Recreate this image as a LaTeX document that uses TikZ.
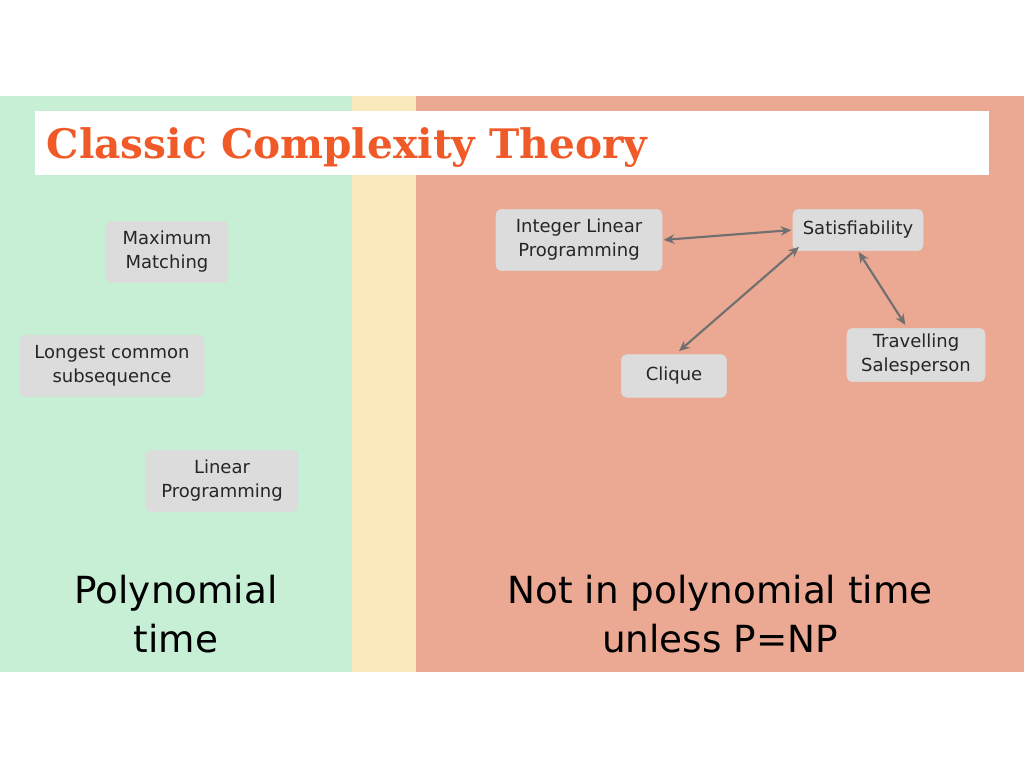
\documentclass[tikz,border=0pt]{standalone}
\usepackage{fontspec}
\setmainfont{DejaVu Sans}
\newfontfamily\titlefont{DejaVu Serif}
\usetikzlibrary{arrows.meta}
\definecolor{polyGreen}{HTML}{C6EFD6}
\definecolor{midYellow}{HTML}{F8E8BC}
\definecolor{npSalmon}{HTML}{EBA892}
\definecolor{titleOrange}{HTML}{F05A28}
\definecolor{boxGray}{HTML}{DCDCDC}
\definecolor{arrowGray}{HTML}{707070}
\tikzset{
  problem/.style={draw=boxGray, fill=boxGray, rounded corners=4pt, align=center,
    font=\fontsize{13.5}{18}\selectfont, text=black!85, inner sep=0pt},
  reduction/.style={draw=arrowGray, line width=1.6pt, {Stealth[length=8pt,width=7pt]}-{Stealth[length=8pt,width=7pt]}, shorten <=1pt, shorten >=1pt},
  region/.style={font=\fontsize{28}{37}\selectfont, align=center}
}
\begin{document}
\begin{tikzpicture}[x=0.75pt,y=-0.75pt]
    \useasboundingbox (0,0) rectangle (1024,768);
    \fill [white] (0,0) rectangle (1024,768);
    \fill [polyGreen] (0,96) rectangle (352,672);
    \fill [midYellow] (352,96) rectangle (416,672);
    \fill [npSalmon] (416,96) rectangle (1024,672);
    \fill [white] (35,111) rectangle (989,175);
    \node [anchor=west, text=titleOrange, font=\titlefont\bfseries\fontsize{30.5}{32}\selectfont] (title) at (42,148) {Classic Complexity Theory};
    % polynomial side
    \node [problem, minimum width=91.5pt, minimum height=46pt] (matching) at (167,252) {Maximum\\Matching};
    \node [problem, minimum width=138pt, minimum height=46pt] (lcs) at (112,366) {Longest common\\subsequence};
    \node [problem, minimum width=114pt, minimum height=46pt] (lp) at (222,481) {Linear\\Programming};
    % np side
    \node [problem, minimum width=124.5pt, minimum height=46pt] (ilp) at (579,240) {Integer Linear\\Programming};
    \node [problem, minimum width=97.5pt, minimum height=31pt] (sat) at (858,230) {Satisfiability};
    \node [problem, minimum width=103.5pt, minimum height=40pt] (tsp) at (916,355) {Travelling\\Salesperson};
    \node [problem, minimum width=79pt, minimum height=32pt] (clique) at (674,376) {Clique};
    \coordinate (satsw) at (800,246);
    \coordinate (cliquetop) at (678,352);
    \coordinate (tsptop) at (906,326);
    \draw [reduction] (ilp.east) -- (sat.west);
    \draw [reduction] (satsw) -- (cliquetop);
    \draw [reduction] (sat.south) -- (tsptop);
    \node [region] (poly) at (176,614) {Polynomial\\time};
    \node [region] (notpoly) at (720,614) {Not in polynomial time\\unless P=NP};
\end{tikzpicture}
\end{document}
